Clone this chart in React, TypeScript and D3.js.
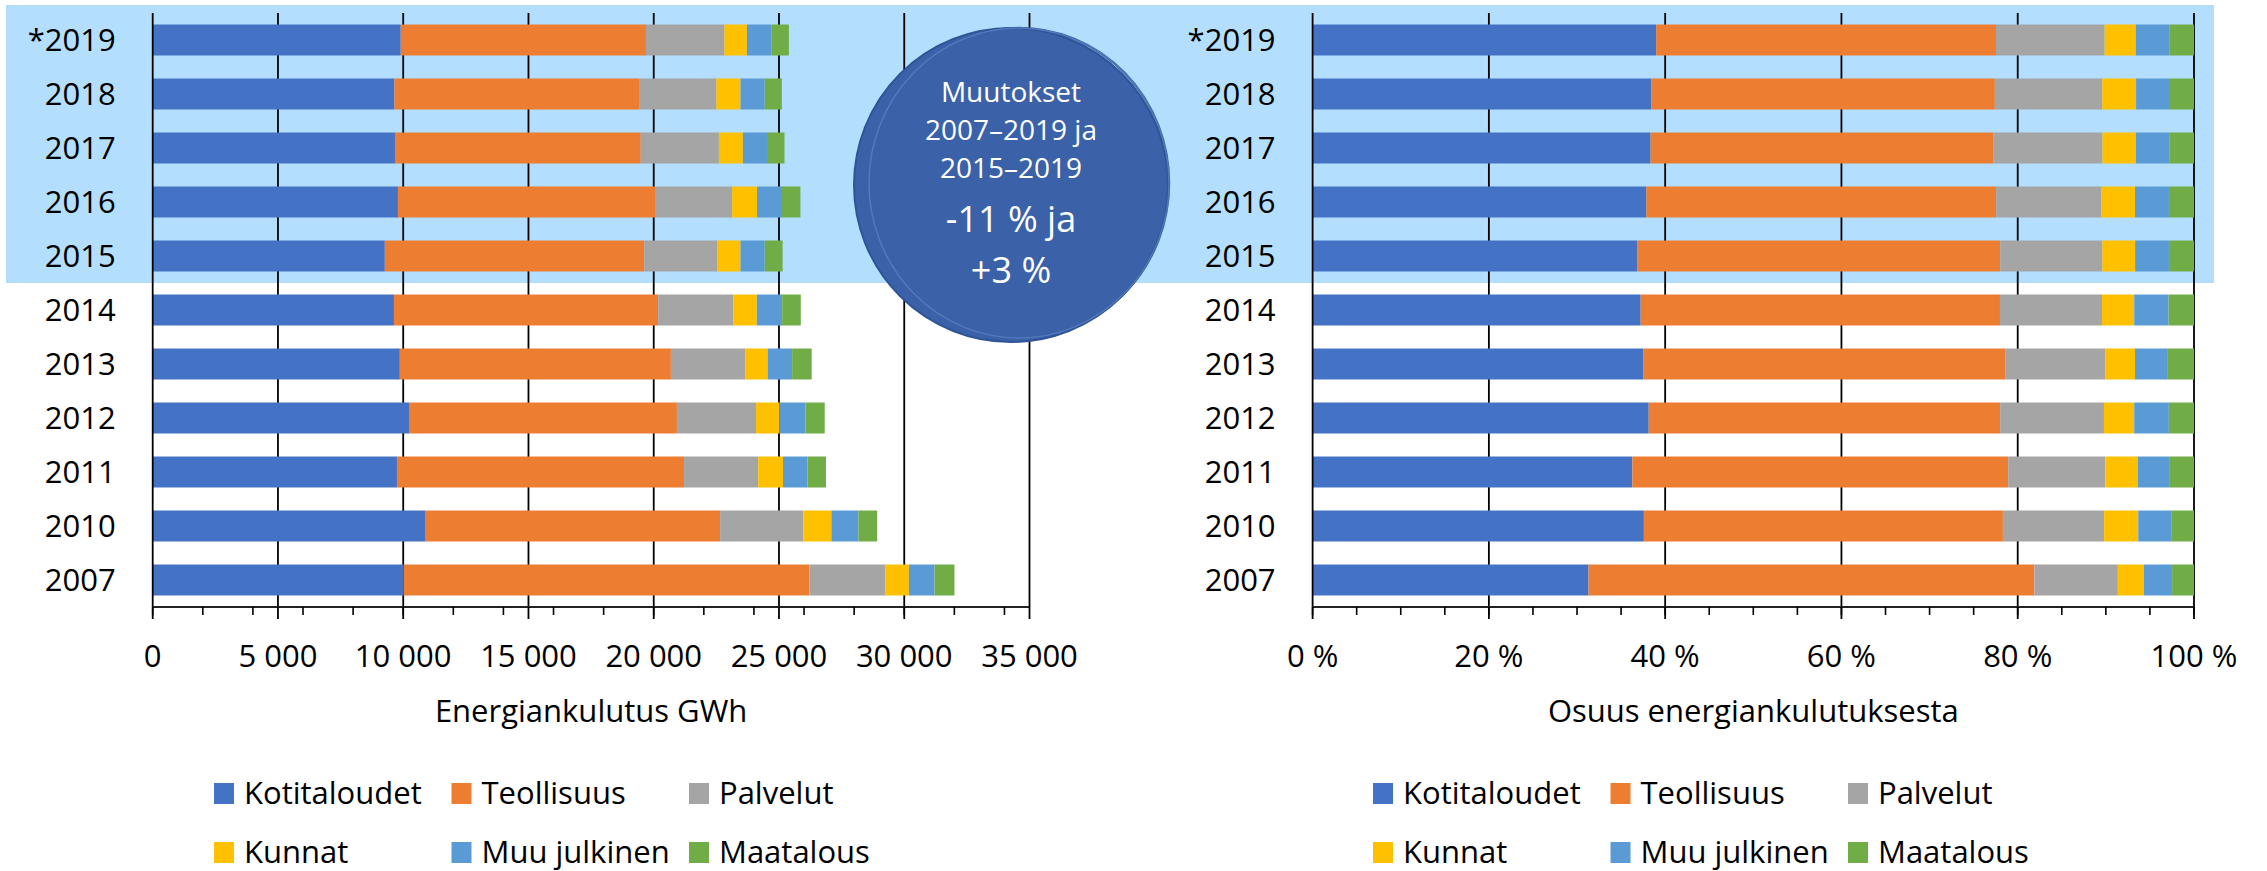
import React from "react";
import * as d3 from "d3";

const categories = ["*2019", "2018", "2017", "2016", "2015", "2014", "2013", "2012", "2011", "2010", "2007"];
const seriesNames = ["Kotitaloudet", "Teollisuus", "Palvelut", "Kunnat", "Muu julkinen", "Maatalous"];
const seriesColors = ["#4472C4", "#ED7D31", "#A5A5A5", "#FFC000", "#5B9BD5", "#70AD47"];

// GWh
const kotitaloudet = [9900, 9650, 9670, 9790, 9265, 9630, 9865, 10230, 9750, 10870, 10020];
const teollisuus = [9790, 9790, 9810, 10260, 10355, 10545, 10820, 10695, 11460, 11780, 16190];
const palvelut = [3130, 3060, 3120, 3080, 2910, 2995, 2975, 3160, 2960, 3320, 3030];
const kunnat = [900, 965, 960, 995, 935, 945, 885, 920, 990, 1120, 945];
const muuJulkinen = [975, 965, 960, 995, 965, 1010, 980, 1055, 980, 1080, 1025];
const maatalous = [700, 685, 700, 735, 715, 745, 780, 765, 735, 750, 795];

const circleLines = ["Muutokset", "2007–2019 ja", "2015–2019"];
const circleBig = ["-11 % ja", "+3 %"];

const W = 2267;
const H = 871;
const FONT = "'Open Sans', sans-serif";

const values = [kotitaloudet, teollisuus, palvelut, kunnat, muuJulkinen, maatalous];
const rows = categories.map((c, i) => {
  const r: any = { cat: c };
  seriesNames.forEach((s, j) => (r[s] = values[j][i]));
  return r;
});

const fiFormat = d3.formatLocale({
  decimal: ",",
  thousands: "\u00a0",
  grouping: [3],
  currency: ["", " €"],
}).format(",d");

const y = d3.scaleBand<string>().domain(categories).range([13, 607]).paddingInner(0.426).paddingOuter(0.213);

type Panel = {
  x: d3.ScaleLinear<number, number>;
  stacked: d3.Series<any, string>[];
  major: number[];
  minor: number[];
  fmt: (d: number) => string;
  title: string;
  legendX: number;
};

const xL = d3.scaleLinear().domain([0, 35000]).range([152.7, 1029.5]);
const xR = d3.scaleLinear().domain([0, 1]).range([1312.6, 2194]);

const panels: Panel[] = [
  {
    x: xL,
    stacked: d3.stack<any>().keys(seriesNames)(rows),
    major: xL.ticks(7),
    minor: xL.ticks(14),
    fmt: (d) => fiFormat(d),
    title: "Energiankulutus GWh",
    legendX: 214,
  },
  {
    x: xR,
    stacked: d3.stack<any>().keys(seriesNames).offset(d3.stackOffsetExpand)(rows),
    major: xR.ticks(5),
    minor: xR.ticks(20),
    fmt: (d) => `${Math.round(d * 100)} %`,
    title: "Osuus energiankulutuksesta",
    legendX: 1373,
  },
];

const axisY = 607;
const topY = 13;

function PanelView({ p }: { p: Panel }) {
  const [x0, x1] = p.x.range();
  return (
    <g>
      {/* gridlines, behind the bars */}
      {p.major.filter((t) => t > 0).map((t) => (
        <line key={t} x1={p.x(t)} x2={p.x(t)} y1={topY} y2={axisY} stroke="#000" strokeWidth={1.8} />
      ))}
      {/* bars */}
      {p.stacked.map((s, si) => (
        <g key={s.key} fill={seriesColors[si]}>
          {s.map((d, i) => (
            <rect
              key={i}
              x={p.x(d[0])}
              y={y(categories[i])}
              width={Math.max(0, p.x(d[1]) - p.x(d[0]))}
              height={y.bandwidth()}
            />
          ))}
        </g>
      ))}
      {/* y axis line */}
      <line x1={x0} x2={x0} y1={topY} y2={axisY} stroke="#000" strokeWidth={1.8} />
      {/* x axis */}
      <line x1={x0} x2={x1} y1={axisY} y2={axisY} stroke="#222" strokeWidth={2} />
      {p.minor.map((t) => (
        <line key={"m" + t} x1={p.x(t)} x2={p.x(t)} y1={axisY} y2={axisY + 8} stroke="#000" strokeWidth={1.6} />
      ))}
      {p.major.map((t) => (
        <line key={"M" + t} x1={p.x(t)} x2={p.x(t)} y1={axisY} y2={axisY + 12} stroke="#000" strokeWidth={1.8} />
      ))}
      {p.major.map((t) => (
        <text key={"l" + t} x={p.x(t)} y={667} textAnchor="middle" fontSize={31} fontFamily={FONT} fill="#000">
          {p.fmt(t)}
        </text>
      ))}
      {/* category labels */}
      {categories.map((c) => (
        <text
          key={c}
          x={x0 - 37}
          y={(y(c) as number) + y.bandwidth() / 2}
          dy="0.36em"
          textAnchor="end"
          fontSize={31}
          fontFamily={FONT}
          fill="#000"
        >
          {c}
        </text>
      ))}
      <text x={(x0 + x1) / 2} y={722} textAnchor="middle" fontSize={31} fontFamily={FONT} fill="#000">
        {p.title}
      </text>
      {/* legend */}
      {seriesNames.map((s, i) => {
        const col = i % 3;
        const row = Math.floor(i / 3);
        const lx = p.legendX + col * 237.5;
        const ly = 783 + row * 59;
        return (
          <g key={s}>
            <rect x={lx} y={ly} width={20} height={21} fill={seriesColors[i]} />
            <text x={lx + 30} y={ly + 21} fontSize={31} fontFamily={FONT} fill="#000">
              {s}
            </text>
          </g>
        );
      })}
    </g>
  );
}

export default function App() {
  const cx = 1011;
  const cy = 185;
  return (
    <svg width={W} height={H} style={{ position: "absolute", left: 0, top: 0 }}>
      <rect x={0} y={0} width={W} height={H} fill="#fff" />
      <rect x={6} y={5} width={2208} height={278} fill="#b4defd" />
      {panels.map((p, i) => (
        <PanelView key={i} p={p} />
      ))}
      {/* highlight circle */}
      <ellipse cx={cx + 8} cy={cy - 2} rx={150} ry={155} fill="none" stroke="#3a62a7" strokeWidth={2.5} />
      <ellipse cx={cx} cy={cy} rx={157} ry={157} fill="#3b62a8" stroke="#2f5597" strokeWidth={2} />
      <ellipse cx={cx + 8} cy={cy - 2} rx={150} ry={155} fill="none" stroke="#5a7fc0" strokeWidth={1.5} opacity={0.8} />
      {circleLines.map((t, i) => (
        <text key={t} x={cx} y={102 + i * 38} textAnchor="middle" fontSize={28} fontFamily={FONT} fill="#fff">
          {t}
        </text>
      ))}
      {circleBig.map((t, i) => (
        <text key={t} x={cx} y={232 + i * 51} textAnchor="middle" fontSize={36} fontFamily={FONT} fill="#fff">
          {t}
        </text>
      ))}
    </svg>
  );
}
